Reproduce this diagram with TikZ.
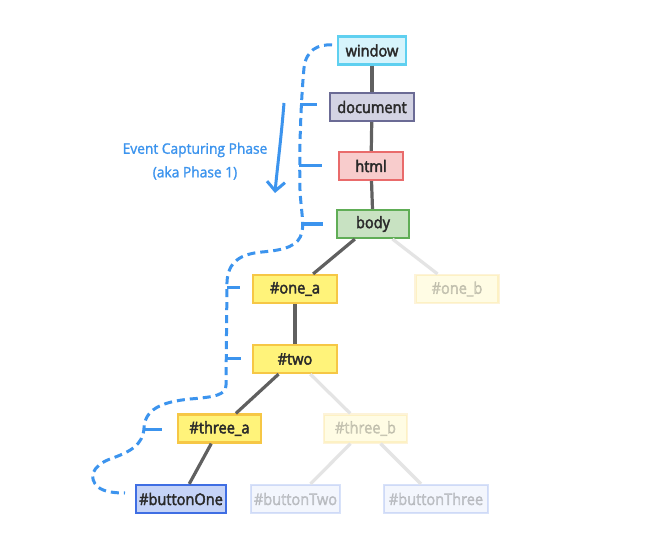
\documentclass[tikz,border=0pt]{standalone}
\usepackage{fontspec}
\setmainfont{Open Sans}
\newfontfamily\nodefont{Open Sans}[FakeBold=2.6, FakeStretch=0.91]
\newfontfamily\labfont{Open Sans}[FakeBold=1.4, FakeStretch=0.95]
\usetikzlibrary{arrows.meta}
\definecolor{winfill}{HTML}{D6F4FC}
\definecolor{windraw}{HTML}{5FD0F0}
\definecolor{docfill}{HTML}{D3D3E3}
\definecolor{docdraw}{HTML}{6B6B95}
\definecolor{htmlfill}{HTML}{F8CCCC}
\definecolor{htmldraw}{HTML}{E96B6B}
\definecolor{bodyfill}{HTML}{C8E2C2}
\definecolor{bodydraw}{HTML}{60AD56}
\definecolor{yelfill}{HTML}{FFF37A}
\definecolor{yeldraw}{HTML}{F6C745}
\definecolor{btnfill}{HTML}{C5D3F7}
\definecolor{btndraw}{HTML}{3F6EE3}
\definecolor{phaseblue}{HTML}{3C94EE}
\definecolor{edgegray}{HTML}{606060}
\definecolor{fadegray}{HTML}{E4E4E4}
\definecolor{txt}{HTML}{2A2A2A}
\tikzset{
  box/.style={draw, line width=2.2pt, minimum height=28pt, inner sep=0pt, text=txt, font=\nodefont\fontsize{16}{18}\selectfont},
  winbox/.style={box, fill=winfill, draw=windraw},
  docbox/.style={box, fill=docfill, draw=docdraw},
  htmlbox/.style={box, fill=htmlfill, draw=htmldraw},
  bodybox/.style={box, fill=bodyfill, draw=bodydraw},
  yelbox/.style={box, fill=yelfill, draw=yeldraw},
  btnbox/.style={box, fill=btnfill, draw=btndraw},
  faded/.style={opacity=0.2},
  edge/.style={draw=edgegray, line width=3.2pt},
  fadeedge/.style={draw=fadegray, line width=3.2pt},
  phase/.style={draw=phaseblue, line width=3pt},
  phasedash/.style={phase, dash pattern=on 8pt off 5pt},
  phasetext/.style={text=phaseblue, font=\labfont\fontsize{14.5}{17}\selectfont, inner sep=0pt},
}
\begin{document}
\begin{tikzpicture}[x=1pt,y=-1pt]
\useasboundingbox[fill=white] (0,0) rectangle (653,540);

% nodes
\node[winbox, minimum width=68pt] (window) at (372,50.5) {window};
\node[docbox, minimum width=84pt] (document) at (372,107) {document};
\node[htmlbox, minimum width=64pt] (html) at (371,166) {html};
\node[bodybox, minimum width=72pt] (body) at (373,224) {body};
\node[yelbox, minimum width=84pt] (onea) at (295,289) {\#one\_a};
\node[yelbox, faded, minimum width=83pt] (oneb) at (457,289) {\#one\_b};
\node[yelbox, minimum width=84pt] (two) at (295,359) {\#two};
\node[yelbox, minimum width=83pt] (threea) at (219.5,428.5) {\#three\_a};
\node[yelbox, faded, minimum width=83pt] (threeb) at (365.5,428.5) {\#three\_b};
\node[btnbox, minimum width=90pt] (btnone) at (181,499) {\#buttonOne};
\node[btnbox, faded, minimum width=89pt] (btntwo) at (295.5,499) {\#buttonTwo};
\node[btnbox, faded, minimum width=104pt] (btnthree) at (436,499) {\#buttonThree};

% edges
\draw[edge] (window) -- (document);
\draw[edge] (document) -- (html);
\draw[edge] (html) -- (body);
\draw[edge] (body) -- (onea);
\draw[fadeedge] (body) -- (oneb);
\draw[edge] (onea) -- (two);
\draw[edge] (two) -- (threea);
\draw[fadeedge] (two) -- (threeb);
\draw[edge] (threea) -- (btnone);
\draw[fadeedge] (threeb) -- (btntwo);
\draw[fadeedge] (threeb) -- (btnthree);

% capturing path
\draw[phasedash] (332,45) .. controls (318,44) and (306,50) .. (304,68)
  .. controls (301,100) and (299,150) .. (300,190)
  .. controls (301,210) and (304,222) .. (302,232)
  .. controls (299,246) and (285,250) .. (262,252)
  .. controls (240,254) and (228,262) .. (227,282)
  -- (226,385)
  .. controls (226,395) and (215,397) .. (190,399)
  .. controls (160,402) and (145,410) .. (144,428)
  .. controls (143,445) and (130,452) .. (110,459)
  .. controls (92,466) and (88,478) .. (98,487)
  .. controls (104,492) and (115,493) .. (125,493);
\draw[phase] (300,105) -- (317,105);
\draw[phase] (299,166) -- (322,166);
\draw[phase] (302,224) -- (323,224);
\draw[phase] (227,287) -- (240,287);
\draw[phase] (227,358) -- (241,358);
\draw[phase] (144,429) -- (162,429);

% arrow and label
\draw[phase, -{Straight Barb[length=9pt,width=18pt]}] (284,103) .. controls (281,140) and (277,170) .. (275,193);
\node[phasetext] (lab1) at (195,150) {Event Capturing Phase};
\node[phasetext] (lab2) at (195,173) {(aka Phase 1)};
\end{tikzpicture}
\end{document}
